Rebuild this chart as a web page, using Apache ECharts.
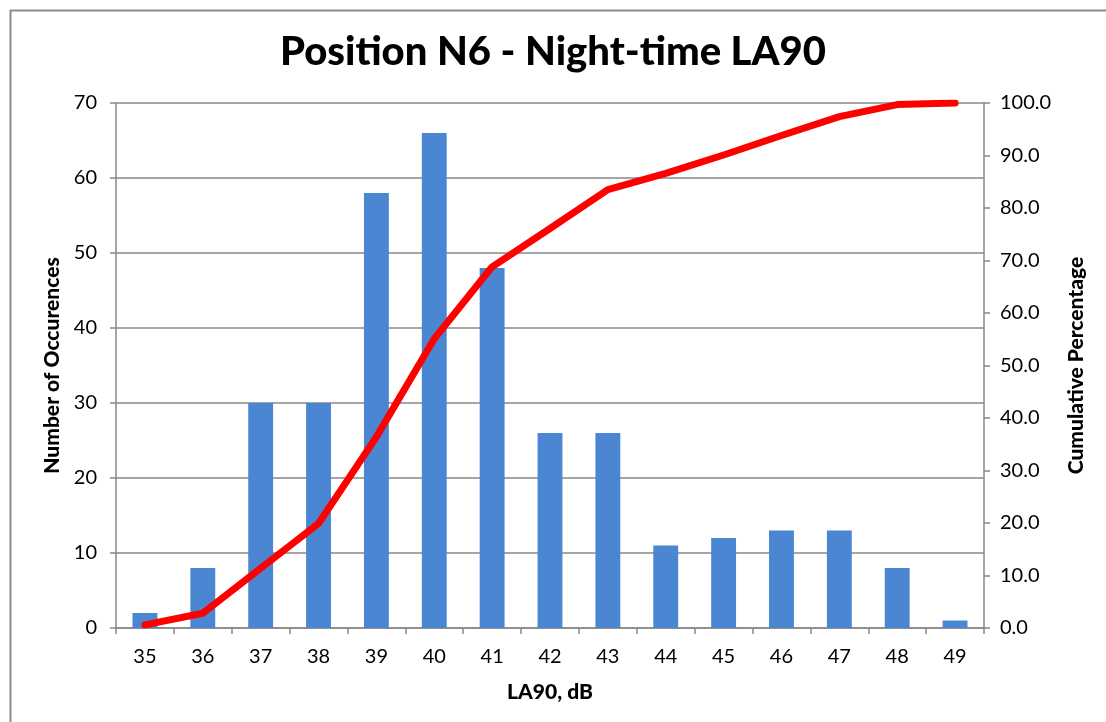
<!DOCTYPE html>
<html>
<head>
<meta charset="utf-8">
<script src="https://cdn.jsdelivr.net/npm/echarts@6/dist/echarts.min.js"></script>
<style>
html,body{margin:0;padding:0;background:#fff;}
#chart{width:1106px;height:722px;}
</style>
</head>
<body>
<div id="chart"></div>
<script>
const categories = ['35','36','37','38','39','40','41','42','43','44','45','46','47','48','49'];
const occurrences = [2, 8, 30, 30, 58, 66, 48, 26, 26, 11, 12, 13, 13, 8, 1];
const cumulativePct = [0.6, 2.8, 11.4, 19.9, 36.4, 55.1, 68.8, 76.1, 83.5, 86.6, 90.1, 93.8, 97.4, 99.7, 100.0];

const FONT = 'Lato, "DejaVu Sans", sans-serif';
const nameStyle = {fontFamily: FONT, fontWeight: 900, fontSize: 21, color: '#000'};
const chart = echarts.init(document.getElementById('chart'), null, {renderer: 'canvas'});
chart.setOption({
  animation: false,
  backgroundColor: '#ffffff',
  graphic: [{
    type: 'rect', left: 8, top: 8,
    shape: {width: 1110, height: 730},
    style: {fill: 'none', stroke: '#8c8c8c', lineWidth: 2},
    silent: true
  }],
  title: {
    text: 'Position N6 - Night-time LA90',
    left: 'center', top: 27,
    textStyle: {fontFamily: FONT, fontWeight: 900, fontSize: 40, color: '#000'}
  },
  grid: {left: 116, right: 122, top: 103, bottom: 94},
  xAxis: {
    type: 'category', data: categories,
    name: 'LA90, dB', nameLocation: 'middle', nameGap: 54,
    nameTextStyle: nameStyle,
    axisLine: {lineStyle: {color: '#888', width: 1.5}},
    axisTick: {show: true, length: 6, lineStyle: {color: '#888', width: 1.5}},
    axisLabel: {fontFamily: FONT, fontSize: 20, color: '#000', margin: 19}
  },
  yAxis: [{
    type: 'value', min: 0, max: 70, interval: 10,
    name: 'Number of Occurences', nameLocation: 'middle', nameGap: 52, nameRotate: 90,
    nameTextStyle: nameStyle,
    axisLine: {show: true, lineStyle: {color: '#888', width: 1.5}},
    axisTick: {show: true, length: 6, lineStyle: {color: '#888', width: 1.5}},
    axisLabel: {fontFamily: FONT, fontSize: 20, color: '#000', margin: 19},
    splitLine: {show: true, lineStyle: {color: '#888', width: 1.5}}
  }, {
    type: 'value', min: 0, max: 100, interval: 10, position: 'right',
    name: 'Cumulative Percentage', nameLocation: 'middle', nameGap: 82, nameRotate: 90,
    nameTextStyle: nameStyle,
    axisLine: {show: true, lineStyle: {color: '#888', width: 1.5}},
    axisTick: {show: true, length: 6, lineStyle: {color: '#888', width: 1.5}},
    axisLabel: {fontFamily: FONT, fontSize: 20, color: '#000', margin: 16,
      formatter: v => v.toFixed(1)},
    splitLine: {show: false}
  }],
  series: [{
    type: 'bar', data: occurrences, yAxisIndex: 0,
    barWidth: '43%',
    itemStyle: {color: '#4a86d2'}
  }, {
    type: 'line', data: cumulativePct, yAxisIndex: 1,
    symbol: 'none', smooth: false,
    lineStyle: {color: '#ff0000', width: 7, cap: 'round', join: 'round'}
  }]
});
</script>
</body>
</html>
